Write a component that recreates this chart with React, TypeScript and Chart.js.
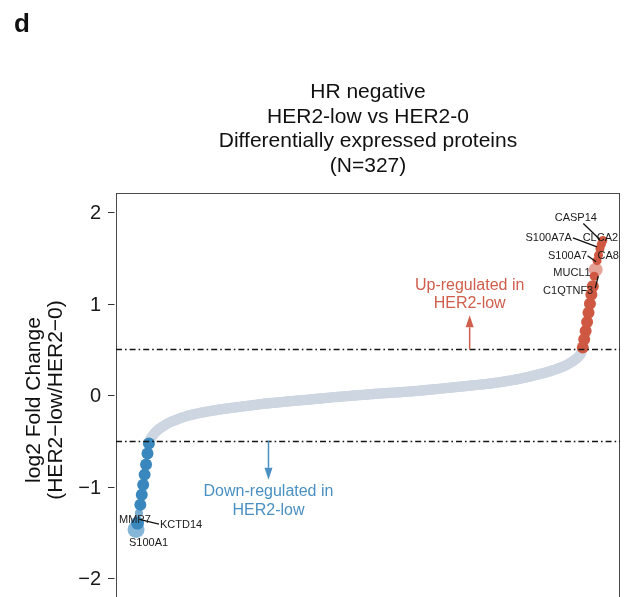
import { useEffect, useRef } from "react";
import { Chart, registerables } from "chart.js";

Chart.register(...registerables);

// Ranked log2 fold changes (HER2-low / HER2-0), sorted ascending.
const downGenes = ["S100A1", "KCTD14", "MMP7"];
const downValues = [-1.47, -1.4, -1.29, -1.2, -1.09, -0.98, -0.87, -0.76, -0.64, -0.53];

const neutralValues = [
  -0.48, -0.455, -0.435, -0.415, -0.4, -0.385, -0.37, -0.36, -0.35, -0.34,
  -0.33, -0.32, -0.31, -0.302, -0.295, -0.288, -0.282, -0.276, -0.27, -0.265,
  -0.258, -0.252, -0.246, -0.241, -0.236, -0.231, -0.226, -0.222, -0.218, -0.214,
  -0.21, -0.207, -0.203, -0.2, -0.197, -0.194, -0.191, -0.188, -0.185, -0.182,
  -0.179, -0.176, -0.174, -0.171, -0.168, -0.166, -0.163, -0.161, -0.158, -0.156,
  -0.154, -0.152, -0.149, -0.147, -0.145, -0.143, -0.141, -0.139, -0.137, -0.135,
  -0.133, -0.131, -0.129, -0.127, -0.125, -0.123, -0.121, -0.119, -0.117, -0.115,
  -0.113, -0.111, -0.109, -0.107, -0.105, -0.103, -0.101, -0.099, -0.097, -0.095,
  -0.093, -0.092, -0.09, -0.089, -0.087, -0.086, -0.084, -0.083, -0.081, -0.08,
  -0.078, -0.077, -0.075, -0.074, -0.072, -0.071, -0.069, -0.068, -0.066, -0.065,
  -0.063, -0.062, -0.061, -0.059, -0.058, -0.057, -0.055, -0.054, -0.053, -0.051,
  -0.05, -0.049, -0.047, -0.046, -0.044, -0.043, -0.041, -0.04, -0.038, -0.037,
  -0.035, -0.034, -0.032, -0.031, -0.029, -0.028, -0.026, -0.025, -0.023, -0.022,
  -0.021, -0.019, -0.018, -0.017, -0.015, -0.014, -0.013, -0.011, -0.01, -0.009,
  -0.008, -0.006, -0.005, -0.004, -0.003, -0.001, 0.0, 0.001, 0.002, 0.004,
  0.005, 0.006, 0.007, 0.009, 0.01, 0.011, 0.012, 0.014, 0.015, 0.016,
  0.017, 0.018, 0.019, 0.02, 0.021, 0.022, 0.023, 0.024, 0.025, 0.026,
  0.027, 0.028, 0.029, 0.03, 0.031, 0.032, 0.033, 0.035, 0.036, 0.037,
  0.038, 0.04, 0.041, 0.042, 0.044, 0.045, 0.046, 0.048, 0.049, 0.05,
  0.052, 0.053, 0.055, 0.056, 0.058, 0.059, 0.061, 0.062, 0.064, 0.065,
  0.067, 0.068, 0.07, 0.071, 0.073, 0.075, 0.076, 0.078, 0.079, 0.081,
  0.083, 0.084, 0.086, 0.087, 0.089, 0.091, 0.092, 0.094, 0.095, 0.097,
  0.099, 0.1, 0.102, 0.103, 0.105, 0.106, 0.108, 0.109, 0.111, 0.112,
  0.114, 0.115, 0.117, 0.119, 0.12, 0.122, 0.124, 0.126, 0.128, 0.13,
  0.132, 0.134, 0.136, 0.139, 0.141, 0.143, 0.146, 0.148, 0.151, 0.153,
  0.156, 0.159, 0.161, 0.164, 0.167, 0.17, 0.173, 0.176, 0.179, 0.182,
  0.185, 0.189, 0.192, 0.196, 0.199, 0.203, 0.207, 0.211, 0.215, 0.219,
  0.223, 0.227, 0.231, 0.235, 0.239, 0.243, 0.247, 0.252, 0.256, 0.261,
  0.266, 0.271, 0.276, 0.281, 0.287, 0.293, 0.299, 0.305, 0.311, 0.318,
  0.325, 0.333, 0.341, 0.35, 0.36, 0.37, 0.381, 0.393, 0.406, 0.421, 0.438, 0.46,
];

const upValues = [0.52, 0.61, 0.7, 0.8, 0.9, 1.0, 1.1, 1.19, 1.3, 1.37, 1.47, 1.53, 1.6, 1.65, 1.69];
const upGenes = ["C1QTNF3", "MUCL1", "S100A7", "CA8", "S100A7A", "CLCA2", "CASP14"];

const yTicks = [-2, -1, 0, 1, 2];
const foldThreshold = 0.5;
const upArrowRank = 234;
const downArrowRank = 93.5;

const titleLines = ["HR negative", "HER2-low vs HER2-0", "Differentially expressed proteins", "(N=327)"];
const yTitleLines = ["log2 Fold Change", "(HER2\u2212low/HER2\u22120)"];
const upText = ["Up-regulated in", "HER2-low"];
const downText = ["Down-regulated in", "HER2-low"];
const panelLetter = "d";

const FONT = '"Liberation Sans", Arial, Helvetica, sans-serif';
const BLUE = "rgb(58,135,190)";
const RED = "rgb(207,88,66)";
const GREY = "rgb(205,214,225)";
const UP_TEXT = "rgb(207,94,76)";
const DOWN_TEXT = "rgb(74,144,194)";

// Marker emphasis for a few named proteins
const geneMarker: Record<string, { r: number; color?: string }> = {
  S100A1: { r: 8.5, color: "rgba(58,135,190,0.62)" },
  KCTD14: { r: 6.5 },
  MMP7: { r: 4, color: "rgba(58,135,190,0.7)" },
  MUCL1: { r: 7, color: "rgba(207,88,66,0.55)" },
  C1QTNF3: { r: 4.5 },
  S100A7: { r: 4.5 },
  CA8: { r: 4.5 },
  S100A7A: { r: 4.5 },
  CLCA2: { r: 4.5 },
  CASP14: { r: 4.5 },
};

// Label placement relative to the point (px): text anchor + optional leader line
type LabelLayout = {
  dx: number;
  dy: number;
  align: CanvasTextAlign;
  line?: [number, number, number, number];
};
const labelLayout: Record<string, LabelLayout> = {
  CASP14: { dx: -27, dy: -20, align: "center", line: [-19.5, -17, -3, -1] },
  CLCA2: { dx: -1, dy: -3.5, align: "center" },
  S100A7A: { dx: -28, dy: -8, align: "right", line: [-27, -11, -3, -2] },
  CA8: { dx: -1, dy: 3.6, align: "left" },
  S100A7: { dx: -10, dy: -2, align: "right", line: [-9.5, -5, -1, 1] },
  MUCL1: { dx: -5, dy: 6, align: "right" },
  C1QTNF3: { dx: -1, dy: 17.5, align: "right", line: [1, 12, 4, 0] },
  S100A1: { dx: 12.5, dy: 16.5, align: "center" },
  KCTD14: { dx: 22.5, dy: 5, align: "left", line: [21.5, 1, 3, -3.5] },
  MMP7: { dx: -4, dy: 10, align: "center" },
};

const downRanks = downValues.map((_, i) => i + 1);
const neutralRanks = neutralValues.map((_, i) => downValues.length + i + 1);
const upRanks = upValues.map((_, i) => downValues.length + neutralValues.length + i + 1);

const geneAt = (group: "down" | "up", i: number): string | undefined => {
  if (group === "down") return downGenes[i];
  const k = i - (upValues.length - upGenes.length);
  return k >= 0 ? upGenes[k] : undefined;
};

const fmtTick = (v: number) => (v < 0 ? "\u2212" + Math.abs(v) : String(v));

const CANVAS_W = 624;
const CANVAS_H = 660;

const decorations = {
  id: "decorations",
  beforeDatasetsDraw(chart: any) {
    const { ctx, chartArea: a, scales } = chart;
    const ys = scales.y;
    ctx.save();
    // plot frame
    ctx.strokeStyle = "#4a4a4a";
    ctx.lineWidth = 1;
    ctx.strokeRect(a.left + 0.5, a.top + 0.5, a.right - a.left - 1, a.bottom - a.top);

    // y ticks and labels
    ctx.strokeStyle = "#333";
    ctx.fillStyle = "#1a1a1a";
    ctx.font = `20px ${FONT}`;
    ctx.textAlign = "right";
    ctx.textBaseline = "middle";
    yTicks.forEach((t) => {
      const y = Math.round(ys.getPixelForValue(t)) + 0.5;
      ctx.beginPath();
      ctx.moveTo(a.left - 8, y);
      ctx.lineTo(a.left - 1.5, y);
      ctx.stroke();
      ctx.fillText(fmtTick(t), a.left - 15, y + 0.5);
    });
    ctx.restore();
  },
  afterDatasetsDraw(chart: any) {
    const { ctx, chartArea: a, scales } = chart;
    const xs = scales.x;
    const ys = scales.y;
    ctx.save();

    // threshold lines
    ctx.strokeStyle = "#151515";
    ctx.lineWidth = 1.3;
    ctx.setLineDash([6, 3, 1.6, 3]);
    [foldThreshold, -foldThreshold].forEach((t) => {
      const y = Math.round(ys.getPixelForValue(t)) + 0.5;
      ctx.beginPath();
      ctx.moveTo(a.left, y);
      ctx.lineTo(a.right, y);
      ctx.stroke();
    });
    ctx.setLineDash([]);

    // direction arrows with captions
    const arrow = (x: number, y0: number, tipY: number, color: string) => {
      const dir = tipY < y0 ? -1 : 1;
      const head = 12;
      ctx.strokeStyle = color;
      ctx.fillStyle = color;
      ctx.lineWidth = 1.5;
      ctx.beginPath();
      ctx.moveTo(x, y0);
      ctx.lineTo(x, tipY - dir * head);
      ctx.stroke();
      ctx.beginPath();
      ctx.moveTo(x, tipY);
      ctx.lineTo(x - 4, tipY - dir * head);
      ctx.lineTo(x + 4, tipY - dir * head);
      ctx.closePath();
      ctx.fill();
    };
    ctx.font = `16px ${FONT}`;
    ctx.textAlign = "center";
    ctx.textBaseline = "alphabetic";

    const ux = xs.getPixelForValue(upArrowRank);
    const uy = ys.getPixelForValue(foldThreshold);
    const uTip = uy - 34;
    arrow(ux, uy, uTip, UP_TEXT);
    ctx.fillStyle = UP_TEXT;
    ctx.fillText(upText[0], ux, uTip - 25);
    ctx.fillText(upText[1], ux, uTip - 7);

    const dx = xs.getPixelForValue(downArrowRank);
    const dy = ys.getPixelForValue(-foldThreshold);
    const dTip = dy + 39;
    arrow(dx, dy, dTip, DOWN_TEXT);
    ctx.fillStyle = DOWN_TEXT;
    ctx.fillText(downText[0], dx, dTip + 16);
    ctx.fillText(downText[1], dx, dTip + 35);

    // gene labels
    ctx.font = `11px ${FONT}`;
    const drawLabels = (ranks: number[], values: number[], group: "down" | "up") => {
      values.forEach((v, i) => {
        const g = geneAt(group, i);
        if (!g || !labelLayout[g]) return;
        const L = labelLayout[g];
        const px = xs.getPixelForValue(ranks[i]);
        const py = ys.getPixelForValue(v);
        if (L.line) {
          ctx.strokeStyle = "#111";
          ctx.lineWidth = 1.3;
          ctx.beginPath();
          ctx.moveTo(px + L.line[0], py + L.line[1]);
          ctx.lineTo(px + L.line[2], py + L.line[3]);
          ctx.stroke();
        }
        ctx.fillStyle = "#1a1a1a";
        ctx.textAlign = L.align;
        ctx.fillText(g, px + L.dx, py + L.dy);
      });
    };
    drawLabels(downRanks, downValues, "down");
    drawLabels(upRanks, upValues, "up");

    // titles
    const cx = (a.left + a.right) / 2;
    ctx.fillStyle = "#111";
    ctx.textAlign = "center";
    ctx.font = `21px ${FONT}`;
    titleLines.forEach((t, i) => ctx.fillText(t, cx, 98 + i * 24.5));

    ctx.save();
    ctx.translate(0, 400);
    ctx.rotate(-Math.PI / 2);
    ctx.font = `21px ${FONT}`;
    ctx.fillText(yTitleLines[0], 0, 40);
    ctx.fillText(yTitleLines[1], 0, 62);
    ctx.restore();

    ctx.font = `bold 26px ${FONT}`;
    ctx.textAlign = "left";
    ctx.fillText(panelLetter, 14, 32);
    ctx.restore();
  },
};

export default function App() {
  const ref = useRef<HTMLCanvasElement | null>(null);

  useEffect(() => {
    if (!ref.current) return;
    const mk = (ranks: number[], values: number[], group: "down" | "up" | "mid", base: string, r: number) => ({
      data: values.map((v, i) => ({ x: ranks[i], y: v })),
      pointRadius: values.map((_, i) => {
        const g = group === "mid" ? undefined : geneAt(group, i);
        return g && geneMarker[g] ? geneMarker[g].r : r;
      }),
      backgroundColor: values.map((_, i) => {
        const g = group === "mid" ? undefined : geneAt(group, i);
        return g && geneMarker[g]?.color ? geneMarker[g].color : base;
      }),
      borderWidth: 0,
      pointHoverRadius: 0,
    });

    const chart = new Chart(ref.current, {
      type: "scatter",
      data: {
        datasets: [
          mk(upRanks, upValues, "up", RED, 6),
          mk(downRanks, downValues, "down", BLUE, 6),
          mk(neutralRanks, neutralValues, "mid", GREY, 5.2),
        ] as any,
      },
      options: {
        responsive: false,
        animation: false,
        events: [],
        layout: {
          autoPadding: false,
          padding: { top: 193, right: CANVAS_W - 620, bottom: CANVAS_H - 620, left: 116 },
        },
        plugins: { legend: { display: false }, tooltip: { enabled: false } },
        scales: {
          x: { type: "linear", display: false, min: -13, max: 339 },
          y: { type: "linear", display: false, min: -2.46, max: 2.21 },
        },
      },
      plugins: [decorations],
    });
    return () => chart.destroy();
  }, []);

  return (
    <div
      style={{
        position: "fixed",
        left: 0,
        top: 0,
        width: 624,
        height: 597,
        overflow: "hidden",
        background: "#fff",
      }}
    >
      <canvas
        ref={ref}
        width={CANVAS_W}
        height={CANVAS_H}
        style={{ width: CANVAS_W, height: CANVAS_H, display: "block" }}
      />
    </div>
  );
}
